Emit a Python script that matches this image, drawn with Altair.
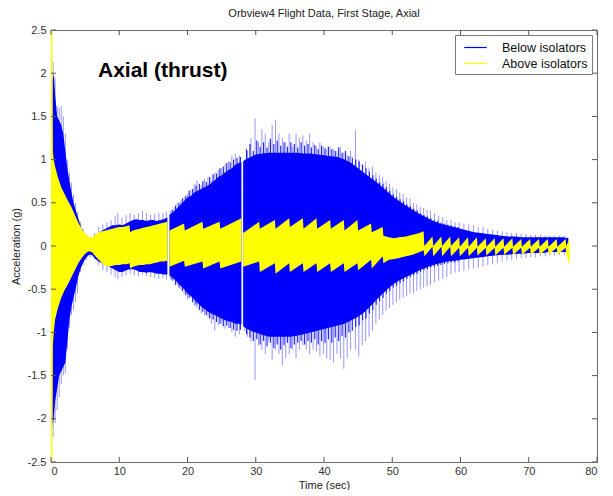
import altair as alt
import pandas as pd

FONT = "Liberation Sans"

# ---- axes ----
x_ticks = [0, 10, 20, 30, 40, 50, 60, 70, 80]
y_ticks = [-2.5, -2, -1.5, -1, -0.5, 0, 0.5, 1, 1.5, 2, 2.5]
gaps = [17.2, 28.0]          # data dropouts (white vertical gaps)

series_names = ["Below isolators", "Above isolators"]
series_colors = ["#0000ff", "#ffff00"]

# ---- Below isolators: dense envelope ----
below_t = [0, 0.2, 0.4, 0.6, 0.9, 1.2, 1.5, 1.8, 2.1, 2.4, 2.7, 3.0, 3.3, 3.6, 4.0,
           4.4, 4.8, 5.2, 5.6, 6.0, 6.5, 7.0, 7.5, 8.0, 8.5, 9.0, 9.5, 10.0, 10.5, 11.0,
           11.5, 12.0, 12.5, 13.0, 13.5, 14.0, 14.5, 15.0, 15.5, 16.0, 16.5, 17.05,
           17.35, 18, 18.5, 19, 19.5, 20, 20.5, 21, 21.5, 22, 22.5, 23, 23.5, 24, 24.5,
           25, 25.5, 26, 26.5, 27, 27.5, 27.9,
           28.15, 28.5, 29, 29.5, 30, 31, 32, 33, 34, 35, 36, 37, 38, 39, 40, 41, 42, 43,
           44, 45, 46, 47, 48, 49, 50, 51, 52, 53, 54, 55, 56, 57, 58, 59, 60, 61, 62, 63,
           64, 65, 66, 67, 68, 69, 70, 71, 72, 73, 74, 75, 75.8]
below_hi = [1.0, 1.9, 2.0, 1.75, 1.5, 1.45, 1.4, 1.3, 1.1, 0.9, 0.75, 0.62, 0.5, 0.42, 0.32,
            0.22, 0.15, 0.1, 0.07, 0.08, 0.12, 0.15, 0.18, 0.2, 0.22, 0.24, 0.24, 0.25, 0.24, 0.26,
            0.28, 0.3, 0.31, 0.3, 0.3, 0.29, 0.3, 0.3, 0.29, 0.3, 0.31, 0.33,
            0.36, 0.4, 0.44, 0.48, 0.52, 0.56, 0.58, 0.62, 0.64, 0.66, 0.68, 0.7, 0.73, 0.76, 0.8,
            0.82, 0.85, 0.88, 0.9, 0.94, 0.96, 0.97,
            0.98, 1.0, 1.02, 1.04, 1.06, 1.07, 1.08, 1.08, 1.08, 1.08, 1.08, 1.07, 1.07, 1.06, 1.05,
            1.04, 1.03, 1.0, 0.96, 0.9, 0.84, 0.78, 0.72, 0.65, 0.58, 0.52, 0.47, 0.42, 0.37, 0.33,
            0.29, 0.26, 0.24, 0.22, 0.2, 0.18, 0.16, 0.15, 0.14, 0.13, 0.12, 0.11, 0.11, 0.1, 0.1,
            0.1, 0.1, 0.1, 0.1, 0.1, 0.09]
below_lo = [-1.0, -2.1, -2.0, -1.8, -1.65, -1.5, -1.45, -1.4, -1.35, -1.1, -0.85, -0.7, -0.6, -0.5, -0.35,
            -0.25, -0.18, -0.13, -0.1, -0.1, -0.15, -0.18, -0.2, -0.22, -0.24, -0.26, -0.28, -0.3, -0.3, -0.28,
            -0.27, -0.27, -0.28, -0.3, -0.3, -0.31, -0.3, -0.31, -0.32, -0.32, -0.33, -0.33,
            -0.34, -0.38, -0.42, -0.46, -0.5, -0.55, -0.58, -0.62, -0.66, -0.7, -0.73, -0.76, -0.78, -0.8, -0.82,
            -0.84, -0.86, -0.87, -0.88, -0.9, -0.9, -0.91,
            -0.93, -0.95, -0.97, -0.99, -1.0, -1.03, -1.05, -1.05, -1.05, -1.05, -1.04, -1.02, -1.0, -0.98, -0.96,
            -0.94, -0.92, -0.9, -0.86, -0.82, -0.76, -0.68, -0.6, -0.52, -0.45, -0.4, -0.36, -0.32, -0.28, -0.25,
            -0.22, -0.2, -0.18, -0.17, -0.16, -0.15, -0.14, -0.13, -0.12, -0.11, -0.1, -0.1, -0.09, -0.09, -0.08,
            -0.08, -0.08, -0.07, -0.07, -0.07, -0.07]

# ---- Below isolators: ragged fringe just outside the dense envelope ----
fringe_t = [17.75, 18.25, 18.75, 19.25, 19.75, 20.25, 20.75, 21.25, 21.75, 22.25, 22.75,
            23.25, 23.75, 24.25, 24.75, 25.25, 25.75, 26.25, 26.75, 27.25, 27.75,
            28.65, 29.15, 29.65, 30.15, 30.65, 31.15, 31.65, 32.15,
            32.65, 33.15, 33.65, 34.15, 34.65, 35.15, 35.65, 36.15,
            36.65, 37.15, 37.65, 38.15, 38.65, 39.15, 39.65, 40.15,
            40.65, 41.15, 41.65, 42.15, 42.65, 43.15, 43.65, 44.15,
            44.65, 45.15, 45.65, 46.15, 46.65, 47.15, 47.65, 48.15,
            48.65, 49.15, 49.65, 50.15, 50.65, 51.15, 51.65, 52.15,
            52.65, 53.15, 53.65, 54.15, 54.65, 55.15, 55.65, 56.15,
            56.65, 57.15, 57.65, 58.15, 58.65, 59.15, 59.65]
fringe_hi = [0.42, 0.47, 0.5, 0.55, 0.58, 0.64, 0.66, 0.7, 0.72, 0.75, 0.74,
             0.8, 0.83, 0.84, 0.9, 0.92, 0.96, 0.97, 1.0, 1.02, 1.03,
             1.12, 1.18, 1.1, 1.22, 1.15, 1.2, 1.14, 1.24,
             1.18, 1.22, 1.16, 1.2, 1.15, 1.2, 1.18, 1.14,
             1.2, 1.16, 1.18, 1.14, 1.17, 1.12, 1.16, 1.13,
             1.15, 1.12, 1.1, 1.14, 1.08, 1.1, 1.04, 1.02,
             1.0, 0.98, 0.94, 0.9, 0.86, 0.82, 0.78, 0.74,
             0.72, 0.68, 0.64, 0.6, 0.57, 0.54, 0.52, 0.48,
             0.46, 0.43, 0.41, 0.38, 0.36, 0.34, 0.32, 0.3,
             0.29, 0.27, 0.26, 0.25, 0.24, 0.23, 0.22]
fringe_lo = [-0.4, -0.45, -0.48, -0.52, -0.57, -0.6, -0.65, -0.68, -0.74, -0.76, -0.8,
             -0.84, -0.85, -0.88, -0.9, -0.93, -0.92, -0.95, -0.97, -0.98, -0.97,
             -1.02, -1.06, -1.1, -1.08, -1.14, -1.1, -1.16, -1.12,
             -1.18, -1.14, -1.2, -1.15, -1.12, -1.18, -1.14, -1.12,
             -1.1, -1.14, -1.1, -1.12, -1.08, -1.14, -1.1, -1.12,
             -1.08, -1.12, -1.06, -1.1, -1.04, -1.06, -1.0, -0.98,
             -0.94, -0.92, -0.86, -0.84, -0.78, -0.74, -0.68, -0.64,
             -0.6, -0.55, -0.52, -0.48, -0.46, -0.43, -0.41, -0.38,
             -0.36, -0.34, -0.32, -0.3, -0.28, -0.27, -0.25, -0.24,
             -0.23, -0.22, -0.21, -0.2, -0.19, -0.19, -0.18]

# ---- Below isolators: individual peaks ----
peak_t = [0.3, 0.6, 0.9, 1.2, 1.5, 1.8, 2.1, 2.4, 2.7, 3.0, 3.3, 3.6, 3.9, 4.3, 4.7, 5.2, 5.8, 6.4,
          7.0, 7.6, 8.2, 8.8, 9.4, 9.8, 10.4, 11.0, 11.6, 12.2, 12.8, 13.4, 14.0, 14.6, 15.2, 15.8,
          16.4, 16.9,
          17.5, 18.0, 18.5, 19.0, 19.5, 20.0, 20.5, 21.0, 21.4, 22.0, 22.5, 23.0, 23.5, 24.0, 24.5,
          25.0, 25.5, 26.0, 26.5, 27.0, 27.6,
          28.4, 28.8, 29.3, 29.9, 30.4, 30.9, 31.4, 31.9, 32.4, 32.9, 33.4, 33.9, 34.4, 34.9, 35.4,
          35.9, 36.4, 36.9, 37.4, 37.9, 38.4, 38.9, 39.4, 39.9, 40.4, 40.9, 41.4, 41.9, 42.4, 42.9,
          43.4, 43.9, 44.6, 45.1, 45.6, 46.1, 46.6, 47.1, 47.6, 48.1, 48.6, 49.1, 49.6, 50.1, 50.6,
          51.1, 51.6, 52.1, 52.6, 53.1, 53.6, 54.1, 54.6, 55.1, 55.6, 56.2, 56.8, 57.4, 58.0, 58.6,
          59.2, 59.8, 60.5, 61.2, 61.9, 62.6, 63.3, 64.0, 64.7, 65.4, 66.1, 66.8, 67.5, 68.2, 68.9,
          69.6, 70.3, 71.0, 71.7, 72.4, 73.1, 73.8, 74.5, 75.2, 75.7]
peak_hi = [2.13, 1.95, 1.62, 1.6, 1.62, 1.5, 1.3, 1.0, 0.85, 0.73, 0.6, 0.5, 0.4, 0.28, 0.2, 0.13, 0.1, 0.15,
           0.22, 0.25, 0.28, 0.3, 0.35, 0.38, 0.33, 0.36, 0.38, 0.36, 0.38, 0.41, 0.38, 0.36, 0.37, 0.38,
           0.38, 0.4,
           0.4, 0.45, 0.5, 0.52, 0.57, 0.6, 0.65, 0.72, 0.76, 0.7, 0.78, 0.8, 0.76, 0.85, 0.88,
           0.9, 0.95, 0.98, 1.05, 1.07, 1.05,
           0.98, 1.1, 1.25, 1.48, 1.2, 1.35, 1.3, 1.2, 1.4, 1.46, 1.3, 1.25, 1.2, 1.3, 1.15,
           1.3, 1.25, 1.28, 1.22, 1.3, 1.2, 1.15, 1.2, 1.15, 1.12, 1.15, 1.12, 1.1, 1.15, 1.08,
           1.05, 1.1, 1.34, 1.0, 0.95, 0.98, 0.9, 0.92, 0.85, 0.82, 0.8, 0.75, 0.72, 0.68, 0.66,
           0.62, 0.6, 0.56, 0.55, 0.5, 0.48, 0.45, 0.44, 0.42, 0.41, 0.38, 0.35, 0.33, 0.3, 0.3,
           0.28, 0.27, 0.26, 0.25, 0.24, 0.22, 0.22, 0.2, 0.19, 0.18, 0.17, 0.16, 0.15, 0.15, 0.14,
           0.14, 0.13, 0.13, 0.13, 0.12, 0.12, 0.12, 0.12, 0.12, 0.1]
peak_lo = [-2.21, -2.05, -1.9, -1.75, -1.6, -1.5, -1.47, -1.2, -0.95, -0.8, -0.74, -0.65, -0.55, -0.3, -0.22, -0.16, -0.13, -0.15,
           -0.22, -0.28, -0.3, -0.33, -0.36, -0.38, -0.36, -0.34, -0.32, -0.34, -0.35, -0.33, -0.35, -0.36, -0.37, -0.38,
           -0.37, -0.39,
           -0.38, -0.4, -0.45, -0.5, -0.55, -0.62, -0.6, -0.7, -0.72, -0.78, -0.8, -0.82, -0.9, -0.98, -0.92,
           -0.9, -0.96, -0.95, -1.0, -1.05, -1.02,
           -0.98, -1.05, -1.1, -1.55, -1.15, -1.2, -1.25, -1.1, -1.32, -1.2, -1.25, -1.38, -1.3, -1.25, -1.2,
           -1.3, -1.2, -1.15, -1.2, -1.25, -1.2, -1.22, -1.28, -1.25, -1.3, -1.32, -1.35, -1.25, -1.3, -1.42,
           -1.3, -1.2, -1.2, -1.28, -1.15, -1.1, -1.05, -0.98, -0.9, -0.85, -0.8, -0.75, -0.72, -0.68, -0.65,
           -0.62, -0.6, -0.58, -0.55, -0.55, -0.52, -0.5, -0.48, -0.47, -0.45, -0.42, -0.4, -0.38, -0.36, -0.33,
           -0.31, -0.3, -0.29, -0.27, -0.26, -0.25, -0.24, -0.22, -0.21, -0.2, -0.18, -0.17, -0.16, -0.15, -0.14,
           -0.14, -0.13, -0.13, -0.12, -0.12, -0.11, -0.11, -0.1, -0.1, -0.1]

# ---- Above isolators: envelope ----
above_t = [0, 0.22, 0.28, 0.4, 0.6, 1.0, 1.5, 2.0, 2.5, 3.0, 3.5, 4.0, 4.5, 5.0, 5.5,
           6.0, 6.5, 7.0, 7.5, 8.0, 8.5, 9.0, 9.5, 10.0, 10.5, 11.0, 11.5, 11.6, 12.0, 12.5,
           13.0, 13.5, 14.0, 14.5, 15.0, 15.5, 16.0, 16.5, 17.05,
           17.35, 19.5, 19.6, 22.2, 22.3, 24.7, 24.8, 27.9,
           28.15, 30.5, 30.6, 32.8, 32.9, 34.9, 35.0, 36.9, 37.0, 38.9, 39.0, 40.9, 41.0, 42.9,
           43.0, 44.9, 45.0, 46.9, 47.0, 48.6, 48.7, 49.5, 50.3, 51.0, 52.0, 53.0, 54.0, 54.6,
           54.7, 55.9, 56.0, 57.2, 57.3, 58.5, 58.6, 59.8, 59.9, 61.1, 61.2, 62.4, 62.5, 63.7,
           63.8, 65.0, 65.1, 66.3, 66.4, 67.6, 67.7, 68.9, 69.0, 70.2, 70.3, 71.5, 71.6, 72.8,
           72.9, 74.1, 74.2, 75.4, 75.5, 75.9, 76.0]
above_hi = [2.5, 2.5, 1.1, 1.0, 0.92, 0.8, 0.68, 0.6, 0.52, 0.45, 0.36, 0.27, 0.2, 0.14, 0.1,
            0.1, 0.13, 0.16, 0.17, 0.18, 0.19, 0.2, 0.21, 0.22, 0.22, 0.23, 0.24, 0.16, 0.18, 0.19,
            0.2, 0.21, 0.22, 0.23, 0.24, 0.25, 0.26, 0.27, 0.28,
            0.18, 0.26, 0.18, 0.28, 0.2, 0.28, 0.2, 0.32,
            0.15, 0.28, 0.2, 0.3, 0.2, 0.32, 0.22, 0.32, 0.2, 0.32, 0.2, 0.3, 0.2, 0.3,
            0.18, 0.3, 0.18, 0.26, 0.16, 0.22, 0.12, 0.1, 0.09, 0.1, 0.11, 0.13, 0.15, 0.17,
            0.0, 0.11, 0.0, 0.11, 0.0, 0.11, 0.0, 0.1, -0.01, 0.1, -0.01, 0.1, -0.01, 0.09,
            -0.01, 0.09, -0.01, 0.09, -0.01, 0.09, -0.01, 0.08, -0.01, 0.08, -0.01, 0.08, -0.01, 0.08,
            -0.01, 0.08, -0.01, 0.08, 0.0, 0.07, 0.07]
above_lo = [-2.5, -2.5, -1.15, -1.0, -0.85, -0.72, -0.6, -0.51, -0.44, -0.36, -0.28, -0.2, -0.14, -0.09, -0.06,
            -0.07, -0.12, -0.16, -0.2, -0.23, -0.24, -0.23, -0.22, -0.22, -0.21, -0.21, -0.2, -0.26, -0.24, -0.23,
            -0.22, -0.22, -0.21, -0.21, -0.2, -0.19, -0.18, -0.18, -0.17,
            -0.24, -0.17, -0.24, -0.18, -0.26, -0.18, -0.26, -0.18,
            -0.24, -0.18, -0.3, -0.2, -0.32, -0.2, -0.3, -0.2, -0.3, -0.2, -0.3, -0.2, -0.3, -0.2,
            -0.3, -0.2, -0.28, -0.16, -0.26, -0.12, -0.2, -0.16, -0.15, -0.14, -0.12, -0.1, -0.07, -0.05,
            -0.12, -0.01, -0.12, -0.01, -0.12, -0.01, -0.12, -0.02, -0.12, -0.02, -0.12, -0.02, -0.11, -0.02,
            -0.11, -0.02, -0.11, -0.02, -0.1, -0.02, -0.1, -0.02, -0.1, -0.02, -0.1, -0.02, -0.1, -0.02,
            -0.1, -0.02, -0.1, -0.02, -0.1, -0.2, -0.2]


def seg_of(t):
    return sum(1 for g in gaps if t > g)


def frame(t, hi, lo, name):
    df = pd.DataFrame({"t": t, "hi": hi, "lo": lo})
    df["series"] = name
    df["seg"] = [seg_of(v) for v in t]
    return df


below_df = frame(below_t, below_hi, below_lo, series_names[0])
above_df = frame(above_t, above_hi, above_lo, series_names[1])
peak_df = pd.DataFrame({"t": peak_t, "hi": peak_hi, "lo": peak_lo})
fringe_df = pd.DataFrame({"t": fringe_t, "hi": fringe_hi, "lo": fringe_lo})

W, H = 546, 432

xscale = alt.Scale(domain=[0, 80], nice=False, zero=False)
yscale = alt.Scale(domain=[-2.5, 2.5], nice=False, zero=False)
X = alt.X("t:Q", scale=xscale,
          axis=alt.Axis(values=x_ticks, title="Time (sec)", labelExpr="datum.value + ''",
                        labelPadding=3, titlePadding=3))
Y = alt.Y("hi:Q", scale=yscale,
          axis=alt.Axis(values=y_ticks, title="Acceleration (g)", labelExpr="datum.value + ''"))
color = alt.Color("series:N",
                  scale=alt.Scale(domain=series_names, range=series_colors),
                  legend=alt.Legend(title=None, orient="top-right",
                                    symbolType="M-1.5,0H1.5", symbolSize=225,
                                    symbolStrokeWidth=1.2, symbolOffset=8, labelOffset=18,
                                    symbolStrokeColor=alt.ExprRef("scale('color', datum.value)"),
                                    labelExpr="datum.label + '   '",
                                    strokeColor="#7a7a7a", fillColor="white",
                                    padding=4, offset=5, rowPadding=1,
                                    labelFont=FONT, labelFontSize=12.5, labelColor="#111"))

peaks = alt.Chart(peak_df).mark_rule(color="#5050ff", opacity=0.6, strokeWidth=1, clip=True).encode(
    x=X, y=Y, y2="lo:Q")

fringe = alt.Chart(fringe_df).mark_rule(color="#1010ff", opacity=0.9, strokeWidth=1.2, clip=True).encode(
    x=X, y=Y, y2="lo:Q")

below = alt.Chart(below_df).mark_area(opacity=1, clip=True, interpolate="linear").encode(
    x=X, y=Y, y2="lo:Q", color=color, detail="seg:N")

above = alt.Chart(above_df).mark_area(opacity=1, clip=True, interpolate="linear").encode(
    x=X, y=Y, y2="lo:Q", color=color, detail="seg:N")

xt_df = pd.DataFrame({"t": x_ticks})
yt_df = pd.DataFrame({"hi": y_ticks})
tick_col = "#555555"
xt_bottom = alt.Chart(xt_df).mark_rule(color=tick_col).encode(x=X, y=alt.value(H), y2=alt.value(H - 5))
xt_top = alt.Chart(xt_df).mark_rule(color=tick_col).encode(x=X, y=alt.value(0), y2=alt.value(5))
yt_left = alt.Chart(yt_df).mark_rule(color=tick_col).encode(y=Y, x=alt.value(0), x2=alt.value(5))
yt_right = alt.Chart(yt_df).mark_rule(color=tick_col).encode(y=Y, x=alt.value(W), x2=alt.value(W - 5))

label = alt.Chart(pd.DataFrame({"label": ["Axial (thrust)"]})).mark_text(
    font=FONT, fontSize=21, fontWeight="bold", color="black", align="left", baseline="middle"
).encode(x=alt.value(47), y=alt.value(41), text="label:N")

chart = alt.layer(peaks, fringe, below, above, xt_bottom, xt_top, yt_left, yt_right, label).properties(
    width=W, height=H,
    padding={"left": 2, "top": 0, "right": 5, "bottom": 0},
    title=alt.TitleParams("Orbview4 Flight Data, First Stage, Axial", font=FONT, fontSize=11,
                          fontWeight="normal", color="#222", offset=5, anchor="middle"),
).configure_view(stroke="#6e6e6e", strokeWidth=1).configure_axis(
    grid=False, domain=False, ticks=False, labelFont=FONT, labelFontSize=11, labelColor="#333",
    labelPadding=5, titleFont=FONT, titleFontSize=11, titleFontWeight="normal", titleColor="#222",
    titlePadding=6
)

chart.save("out.html", embed_options={"renderer": "svg", "actions": False})
